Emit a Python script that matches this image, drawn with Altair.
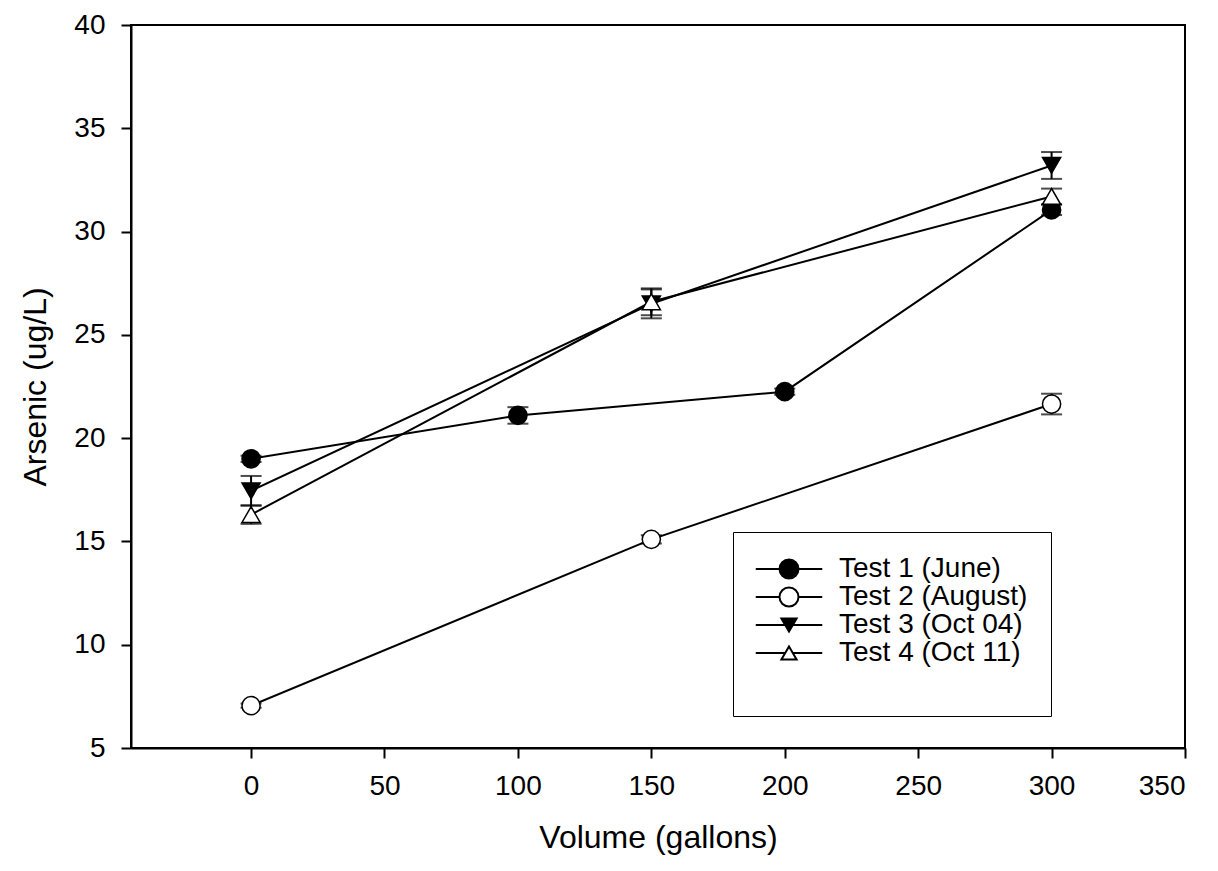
import altair as alt
import pandas as pd

series_names = ["Test 1 (June)", "Test 2 (August)", "Test 3 (Oct 04)", "Test 4 (Oct 11)"]

t1_x = [0, 100, 200, 300]
t1_y = [19.0, 21.1, 22.25, 31.05]
t1_err = [0.15, 0.4, 0.15, 0.25]

t2_x = [0, 150, 300]
t2_y = [7.05, 15.1, 21.65]
t2_err = [0.1, 0.2, 0.5]

t3_x = [0, 150, 300]
t3_y = [17.45, 26.5, 33.2]
t3_err = [0.72, 0.7, 0.65]

t4_x = [0, 150, 300]
t4_y = [16.3, 26.6, 31.7]
t4_err = [0.45, 0.65, 0.38]

x_ticks = [0, 50, 100, 150, 200, 250, 300, 350]
y_ticks = [5, 10, 15, 20, 25, 30, 35, 40]

point_shapes = ["circle", "circle", "triangle-down", "triangle-up"]
point_fills = ["black", "white", "black", "white"]
legend_shapes = [
    "M-3.5,0H-1M1,0H3.5M-1,0A1,1,0,1,1,1,0A1,1,0,1,1,-1,0Z",
    "M-3.5,0H-1M1,0H3.5M-1,0A1,1,0,1,1,1,0A1,1,0,1,1,-1,0Z",
    "M-3.5,0H-0.4M0.4,0H3.5M-0.8,-0.69L0.8,-0.69L0,0.69Z",
    "M-3.5,0H-0.4M0.4,0H3.5M0,-0.69L0.8,0.69L-0.8,0.69Z",
]

rows = []
for name, xs, ys, es in zip(series_names,
                            [t1_x, t2_x, t3_x, t4_x],
                            [t1_y, t2_y, t3_y, t4_y],
                            [t1_err, t2_err, t3_err, t4_err]):
    for xv, yv, ev in zip(xs, ys, es):
        rows.append({"series": name, "volume": xv, "arsenic": yv, "err": ev})
df = pd.DataFrame(rows)

FONT = "Liberation Sans"

xscale = alt.Scale(domain=[-45, 350], nice=False, zero=False)
yscale = alt.Scale(domain=[5, 40], nice=False, zero=False)

base = alt.Chart(df).transform_calculate(
    lo="datum.arsenic - datum.err", hi="datum.arsenic + datum.err"
)

x_enc = alt.X("volume:Q", scale=xscale,
              axis=alt.Axis(values=x_ticks, title="Volume (gallons)"))
y_enc = alt.Y("arsenic:Q", scale=yscale,
              axis=alt.Axis(values=y_ticks, title="Arsenic (ug/L)"))

lines = base.mark_line(color="black", strokeWidth=2).encode(
    x=x_enc, y=y_enc, detail="series:N"
)

rules = base.mark_rule(color="black", strokeWidth=2).encode(
    x="volume:Q", y="lo:Q", y2="hi:Q"
)
cap_lo = base.mark_tick(color="black", orient="horizontal", size=21, thickness=2).encode(
    x="volume:Q", y="lo:Q"
)
cap_hi = base.mark_tick(color="black", orient="horizontal", size=21, thickness=2).encode(
    x="volume:Q", y="hi:Q"
)

points = base.mark_point(filled=True, stroke="black", strokeWidth=1.5, size=330, opacity=1).encode(
    x="volume:Q", y="arsenic:Q",
    shape=alt.Shape("series:N", scale=alt.Scale(domain=series_names, range=point_shapes), legend=None),
    fill=alt.Fill("series:N", scale=alt.Scale(domain=series_names, range=point_fills), legend=None),
)

leg = alt.Legend(
    title="\u00a0", titleOrient="bottom", titleFontSize=20, titlePadding=6,
    orient="none", legendX=602, legendY=507,
    strokeColor="black", fillColor="white", padding=23,
    symbolSize=361, symbolOffset=19, labelOffset=36,
    symbolStrokeWidth=2, symbolOpacity=1,
    labelFont=FONT, labelFontSize=28, labelColor="black",
    rowPadding=0, labelLimit=400,
)

legend_layer = base.mark_point(filled=True, stroke="black", strokeWidth=2, opacity=0, size=1).encode(
    x="volume:Q", y="arsenic:Q",
    shape=alt.Shape("series:N", scale=alt.Scale(domain=series_names, range=legend_shapes), legend=leg),
    fill=alt.Fill("series:N", scale=alt.Scale(domain=series_names, range=point_fills), legend=leg),
)

chart = alt.layer(lines, rules, cap_lo, cap_hi, points, legend_layer).resolve_scale(
    shape="independent", fill="independent"
).properties(
    width=1054, height=723,
    autosize=alt.AutoSizeParams(type="none"),
    padding={"left": 123, "top": 17, "right": 20, "bottom": 114},
).configure_view(
    stroke="black", strokeWidth=2
).configure_axis(
    grid=False, domainColor="black", domainWidth=2, tickColor="black", tickWidth=2,
    tickSize=10, labelFont=FONT, labelFontSize=28, labelColor="black",
    titleFont=FONT, titleFontSize=32, titleFontWeight="normal", titleColor="black",
).configure_axisY(
    labelPadding=16, titlePadding=21
).configure_axisX(
    labelPadding=14, titlePadding=22
)

chart.save("out.html", embed_options={"renderer": "svg", "actions": False})
